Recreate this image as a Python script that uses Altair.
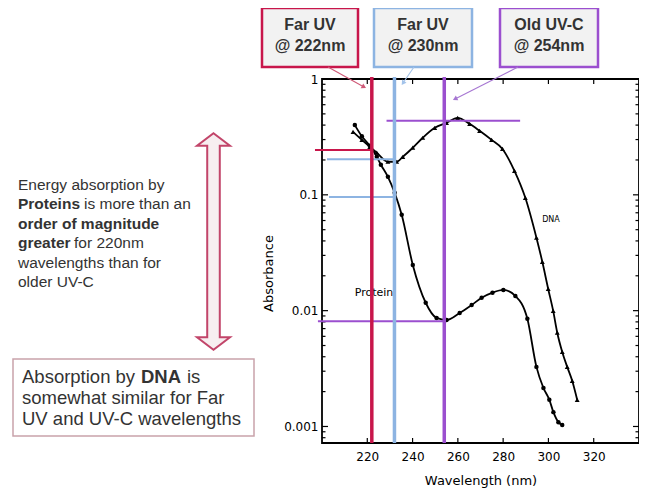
import altair as alt
import pandas as pd

# ---------------- data ----------------
dna_wl = [213.7, 217.6, 221.1, 224.2, 229.1, 233.0, 235.7, 240.1, 244.5, 249.8, 255.0,
          259.9, 265.2, 269.6, 274.9, 279.7, 285.0, 289.8, 294.7, 297.3, 299.9, 302.1,
          303.9, 306.1, 308.3, 310.5, 312.7]
dna_abs = [0.349, 0.298, 0.260, 0.231, 0.193, 0.193, 0.213, 0.255, 0.311, 0.379, 0.419,
           0.462, 0.410, 0.357, 0.298, 0.249, 0.161, 0.0942, 0.0426, 0.0264, 0.0154, 0.00995,
           0.00645, 0.0044, 0.00327, 0.00248, 0.0017]

prot_wl = [214.5, 217.6, 221.1, 224.2, 226.0, 229.1, 232.1, 235.2, 240.1, 245.8, 250.6,
           255.0, 260.8, 266.1, 270.5, 275.3, 280.1, 285.4, 290.7, 294.7, 297.8, 300.4,
           302.2, 304.4, 306.1]
prot_abs = [0.40, 0.32, 0.265, 0.213, 0.182, 0.143, 0.104, 0.0672, 0.0248, 0.0117, 0.00865,
            0.0083, 0.00955, 0.0112, 0.0129, 0.0143, 0.0151, 0.0134, 0.0085, 0.00327, 0.00215,
            0.0017, 0.00133, 0.00109, 0.00103]

uv_keys = ["222", "230", "254"]
uv_wl = [222, 232, 254]
uv_title = ["Far UV", "Far UV", "Old UV-C"]
uv_sub = ["@ 222nm", "@ 230nm", "@ 254nm"]

read_key = ["222", "230", "230", "254", "254"]
read_abs = [0.244, 0.203, 0.0957, 0.435, 0.0081]
read_from = [196.9, 202.2, 203.1, 228.5, 198.2]
read_to = [222, 232, 232, 287.5, 254]

x_ticks = [220, 240, 260, 280, 300, 320]
y_ticks = [0.001, 0.01, 0.1, 1]
y_minor = [m * 10.0 ** e for e in (-4, -3, -2, -1) for m in range(2, 10)]
y_minor = [v for v in y_minor if v > 0.00072]

note_lines = [("", "Energy absorption by"),
              ("Proteins", "is more than an"),
              ("order of magnitude", ""),
              ("greater", "for 220nm"),
              ("", "wavelengths than for"),
              ("", "older UV-C")]
box_lines = ["somewhat similar for Far", "UV and UV-C wavelengths"]

# ---------------- styling ----------------
W, H = 317, 364
uv_colors = ["#c8164b", "#8db4e2", "#9b4fcf"]
arrow_colors = ["#cf5a78", "#a3c3ea", "#a676d2"]
SANS = "Liberation Sans, Arial, sans-serif"
HAND = "DejaVu Sans"
TXT = "#333333"

xs = alt.Scale(domain=[200, 340], nice=False, zero=False)
ys = alt.Scale(type="log", domain=[0.00072, 1.0], nice=False)
cs = alt.Scale(domain=uv_keys, range=uv_colors)

AX = alt.Axis(values=x_ticks, ticks=False, domain=False, grid=False,
              labelFont=HAND, labelFontSize=12, labelColor="black", labelPadding=8,
              title="Wavelength (nm)", titleFont=HAND, titleFontSize=13,
              titleFontWeight="normal", titleColor="black", titlePadding=12)
AY = alt.Axis(values=y_ticks, format="~g", ticks=False, domain=False, grid=False,
              labelFont=HAND, labelFontSize=12, labelColor="black", labelPadding=4,
              title="Absorbance", titleFont=HAND, titleFontSize=13,
              titleFontWeight="normal", titleColor="black", titleX=-54, titleY=194,
              titleAngle=270, titleAlign="center", titleBaseline="middle")

dna = pd.DataFrame({"wl": dna_wl, "a": dna_abs})
prot = pd.DataFrame({"wl": prot_wl, "a": prot_abs})
uv = pd.DataFrame({"k": uv_keys, "wl": uv_wl})
reads = pd.DataFrame({"k": read_key, "a": read_abs, "x0": read_from, "x1": read_to})
one = pd.DataFrame({"z": [0]})


def X(f):
    return alt.X(f, type="quantitative", scale=xs, axis=AX)


def Y(f):
    return alt.Y(f, type="quantitative", scale=ys, axis=AY)


layers = []

# inward ticks
ymaj = pd.DataFrame({"v": y_ticks})
ymin = pd.DataFrame({"v": y_minor})
xt = pd.DataFrame({"v": x_ticks})
for d, ln in ((ymaj, 6), (ymin, 3.5)):
    layers.append(alt.Chart(d).mark_rule(color="black", strokeWidth=1.2).encode(
        y=Y("v"), x=alt.value(0), x2=alt.value(ln)))
    layers.append(alt.Chart(d).mark_rule(color="black", strokeWidth=1.2).encode(
        y=Y("v"), x=alt.value(W - ln), x2=alt.value(W)))
layers.append(alt.Chart(xt).mark_rule(color="black", strokeWidth=1.2).encode(
    x=X("v"), y=alt.value(0), y2=alt.value(5)))
layers.append(alt.Chart(xt).mark_rule(color="black", strokeWidth=1.2).encode(
    x=X("v"), y=alt.value(H - 5), y2=alt.value(H)))

# curves
layers.append(alt.Chart(prot).mark_line(interpolate="monotone", color="black", strokeWidth=1.8)
              .encode(x=X("wl"), y=Y("a")))
layers.append(alt.Chart(prot).mark_circle(color="black", size=20, opacity=1)
              .encode(x=X("wl"), y=Y("a")))
layers.append(alt.Chart(dna).mark_line(interpolate="monotone", color="black", strokeWidth=1.8)
              .encode(x=X("wl"), y=Y("a")))
layers.append(alt.Chart(dna).mark_point(shape="triangle-up", filled=True, color="black",
                                        size=24, opacity=1)
              .encode(x=X("wl"), y=Y("a")))

# curve labels
layers.append(alt.Chart(one).mark_text(text="DNA", font=HAND, fontSize=8, color="black")
              .encode(x=alt.value(229), y=alt.value(141)))
layers.append(alt.Chart(one).mark_text(text="Protein", font=HAND, fontSize=11, color="black")
              .encode(x=alt.value(52), y=alt.value(214)))

# reading lines
layers.append(alt.Chart(reads).mark_rule(strokeWidth=2).encode(
    x=X("x0"), x2="x1:Q", y=Y("a"), color=alt.Color("k:N", scale=cs, legend=None)))
layers.append(alt.Chart(uv).mark_rule(strokeWidth=3.5).encode(
    x=X("wl"), y=alt.value(-2), y2=alt.value(H), color=alt.Color("k:N", scale=cs, legend=None)))

# label boxes with arrows
box_x = [(-60, 36), (52, 150), (178, 276)]
arrows = [((6, -12), (42, 8), 119), ((92, -12), (81, 4), 215), ((196, -12), (133, 20), 243)]
for i in range(3):
    x0, x1 = box_x[i]
    cx = (x0 + x1) / 2
    layers.append(alt.Chart(one).mark_rect(fill="#f2f2f2", stroke=uv_colors[i], strokeWidth=2.5)
                  .encode(x=alt.value(x0), x2=alt.value(x1), y=alt.value(-71), y2=alt.value(-12)))
    layers.append(alt.Chart(one).mark_text(text=uv_title[i], font=SANS, fontSize=16,
                                           fontWeight="bold", color=TXT)
                  .encode(x=alt.value(cx), y=alt.value(-54)))
    layers.append(alt.Chart(one).mark_text(text=uv_sub[i], font=SANS, fontSize=16,
                                           fontWeight="bold", color=TXT)
                  .encode(x=alt.value(cx), y=alt.value(-33)))
    (ax0, ay0), (ax1, ay1), ang = arrows[i]
    layers.append(alt.Chart(one).mark_rule(color=arrow_colors[i], strokeWidth=1.1)
                  .encode(x=alt.value(ax0), y=alt.value(ay0), x2=alt.value(ax1), y2=alt.value(ay1)))
    layers.append(alt.Chart(one).mark_point(shape="triangle-up", filled=True, size=28,
                                            color=arrow_colors[i], opacity=1, angle=ang)
                  .encode(x=alt.value(ax1), y=alt.value(ay1)))

# double-headed arrow
arrow_path = ("M0,-1L0.152,-0.885L0.058,-0.885L0.058,0.885L0.152,0.885L0,1"
              "L-0.152,0.885L-0.058,0.885L-0.058,-0.885L-0.152,-0.885Z")
layers.append(alt.Chart(one).mark_point(shape=arrow_path, size=46900, filled=True,
                                        fill="#f7eef0", stroke="#c2456a", strokeWidth=2,
                                        opacity=1, fillOpacity=1, strokeOpacity=1)
              .encode(x=alt.value(-108.5), y=alt.value(162.5)))

# left note
bold_w = {"Proteins": 66, "greater": 56}
for i, (b, r) in enumerate(note_lines):
    y = 106 + i * 19.4
    if b:
        layers.append(alt.Chart(one).mark_text(text=b, font=SANS, fontSize=15.5, fontWeight="bold",
                                               color=TXT, align="left", baseline="middle")
                      .encode(x=alt.value(-304), y=alt.value(y)))
    if r:
        layers.append(alt.Chart(one).mark_text(text=r, font=SANS, fontSize=15.5, color=TXT,
                                               align="left", baseline="middle")
                      .encode(x=alt.value(-304 + bold_w.get(b, 0)), y=alt.value(y)))

# bottom-left box
layers.append(alt.Chart(one).mark_rect(fill="white", stroke="#c9a3ab", strokeWidth=1.5)
              .encode(x=alt.value(-309), x2=alt.value(-68), y=alt.value(280), y2=alt.value(357)))
for txt, xx, wt in (("Absorption by", -300, "normal"), ("DNA", -181, "bold"), ("is", -135, "normal")):
    layers.append(alt.Chart(one).mark_text(text=txt, font=SANS, fontSize=18.5, fontWeight=wt,
                                           color=TXT, align="left", baseline="middle")
                  .encode(x=alt.value(xx), y=alt.value(298)))
for i, txt in enumerate(box_lines):
    layers.append(alt.Chart(one).mark_text(text=txt, font=SANS, fontSize=18.5, color=TXT,
                                           align="left", baseline="middle")
                  .encode(x=alt.value(-300), y=alt.value(319 + i * 20.5)))

chart = alt.layer(*layers).properties(
    width=W, height=H,
    padding={"left": 314, "top": 71, "right": 0, "bottom": 46},
    autosize=alt.AutoSizeParams(type="none"),
    background="white",
).configure_view(stroke="black", strokeWidth=1.8)

chart.save("out.html", embed_options={"renderer": "svg", "actions": False})
